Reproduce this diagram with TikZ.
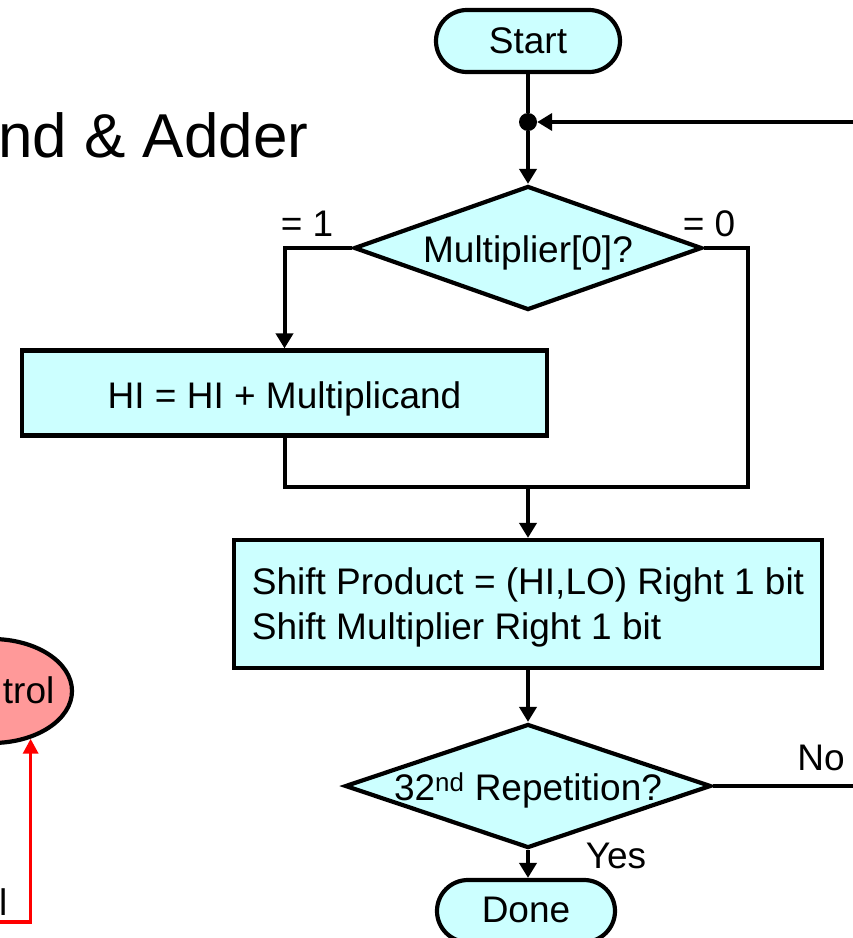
\documentclass[tikz,border=0pt]{standalone}
\usepackage{fontspec}
\setmainfont{Liberation Sans}
\usetikzlibrary{arrows.meta,shapes.geometric,calc}
\definecolor{boxcyan}{RGB}{204,255,255}
\definecolor{ctlred}{RGB}{255,153,153}
\begin{document}
\begin{tikzpicture}[x=1pt,y=-1pt,
  every node/.style={font=\fontsize{37}{45}\selectfont},
  term/.style={draw, fill=boxcyan, line width=4.2pt, rounded corners=31pt, minimum height=62pt, inner sep=0pt, text depth=0pt},
  procbox/.style={draw, fill=boxcyan, line width=4.2pt, inner sep=0pt, text depth=0pt},
  decision/.style={draw, fill=boxcyan, line width=4.2pt, diamond, aspect=2.8, inner sep=0pt, text depth=0pt},
  conn/.style={line width=4pt},
  arr/.style={conn, -{Triangle[length=15pt,width=17pt]}},
  lbl/.style={inner sep=0pt}
]
\useasboundingbox (0,0) rectangle (853,938);
\clip (0,0) rectangle (853,938);

% title fragment
\node[lbl, anchor=base west, font=\fontsize{62}{70}\selectfont] (title) at (-2,157) {nd \& Adder};

% flowchart nodes
\node[term, minimum width=184pt] (start) at (528,41) {Start};
\node[circle, fill=black, inner sep=0pt, minimum size=18pt] (j) at (528,122) {};
\node[decision, minimum width=348pt, minimum height=124pt] (d1) at (528,248) {\raisebox{-2pt}{Multiplier[0]?}};
\node[procbox, minimum width=525pt, minimum height=85pt] (hi) at (284.5,393) {\raisebox{-3.5pt}{HI = HI + Multiplicand}};
\node[procbox, minimum width=588pt, minimum height=128pt, align=left] (sh) at (528,604)
  {Shift Product = (HI,LO) Right 1 bit\\Shift Multiplier Right 1 bit};
\node[decision, minimum width=366pt, minimum height=124pt] (d2) at (528,786) {\raisebox{-1pt}{32\textsuperscript{nd} Repetition?}};
\node[term, minimum width=178pt] (done) at (526,911) {\raisebox{2pt}{Done}};

% control ellipse (cut at left edge)
\node[draw, ellipse, fill=ctlred, line width=4.2pt, minimum width=160pt, minimum height=104pt, inner sep=0pt] (ctl) at (-8,691) {};
\node[lbl, anchor=base east] (ctltxt) at (54.5,703) {trol};
\node[lbl, anchor=base west] (leftl) at (-1,915) {l};

% labels
\node[lbl] (l1) at (307,224) {= 1};
\node[lbl] (l0) at (709,224) {= 0};
\node[lbl] (lno) at (821,758) {No};
\node[lbl] (lyes) at (616,856) {Yes};

% connectors
\coordinate (loopin) at (870,122);
\coordinate (merge) at (528,487);
\coordinate (rturn) at (748,487);
\coordinate (noout) at (870,786);
\coordinate (redin) at (-10,922);

\draw[conn] (start) -- (j);
\draw[arr] (j) -- (d1);
\draw[arr] (loopin) -- (j);
\draw[arr] (d1.west) -| (hi.north);
\draw[conn] (d1.east) -| (rturn) -- (merge);
\draw[conn] (hi.south) |- (merge);
\draw[arr] (merge) -- (sh.north);
\draw[arr] (sh.south) -- (d2.north);
\draw[conn] (d2.east) -- (noout);
\draw[arr] (d2.south) -- (d2.south |- done.north);
\draw[red, line width=3.5pt, -{Triangle[length=15pt,width=15pt]}] (redin) -| (ctl.-51);
\end{tikzpicture}
\end{document}
